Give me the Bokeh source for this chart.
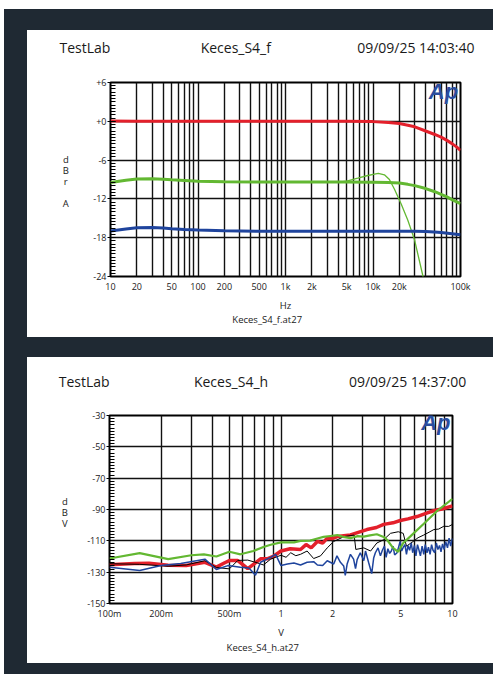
from bokeh.plotting import figure
from bokeh.layouts import column, row
from bokeh.models import Range1d, FixedTicker, Label, Spacer
from bokeh.embed import file_html
from bokeh.resources import INLINE

FONT = "Open Sans"
DARK = "#1f2933"
TXT = "#1a1a1a"
RED = "#e3202b"
GREEN = "#63b832"
BLUE = "#1f449d"
LOGO = "#2a4d9e"

# ---------------- Chart 1: frequency response (dBr A vs Hz) ----------------
f_ticks = [10, 20, 50, 100, 200, 500, 1000, 2000, 5000, 10000, 20000, 100000]
f_tick_labels = ["10", "20", "50", "100", "200", "500", "1k", "2k", "5k", "10k", "20k", "100k"]
dbr_ticks = [-24, -18, -12, -6, 0, 6]
dbr_tick_labels = ["-24", "-18", "-12", "-6", "+0", "+6"]

red_f = [10, 20, 50, 100, 200, 500, 1000, 2000, 5000, 10000, 15000, 20000, 25000,
         30000, 40000, 50000, 60000, 70000, 80000, 90000, 100000]
red_db = [0.05, 0.02, 0.0, 0.0, 0.0, 0.0, 0.0, 0.0, 0.0, -0.05, -0.18, -0.35, -0.6,
          -0.85, -1.5, -2.0, -2.45, -2.95, -3.45, -3.95, -4.5]

green_f = [10, 15, 20, 30, 40, 50, 70, 100, 200, 500, 1000, 2000, 5000, 10000, 15000,
           20000, 25000, 30000, 40000, 50000, 60000, 70000, 80000, 100000]
green_db = [-9.45, -9.1, -8.92, -8.88, -8.95, -9.05, -9.15, -9.27, -9.33, -9.38, -9.4,
            -9.4, -9.4, -9.42, -9.47, -9.55, -9.75, -9.95, -10.4, -10.85, -11.3, -11.7,
            -12.1, -12.75]

green2_f = [10, 15, 20, 30, 40, 50, 70, 100, 200, 500, 1000, 2000, 4300, 5000, 6700,
            8500, 10400, 11500, 13500, 15400, 17600, 21000, 25000, 29800, 37300, 39000]
green2_db = [-9.45, -9.1, -8.92, -8.88, -8.95, -9.05, -9.15, -9.27, -9.33, -9.38, -9.4,
             -9.4, -9.38, -9.25, -8.8, -8.42, -8.16, -8.06, -8.27, -9.0, -10.5, -12.8,
             -15.3, -18.3, -24.0, -25.0]

blue_f = [10, 15, 20, 30, 40, 50, 70, 100, 200, 500, 1000, 5000, 10000, 20000, 30000,
          40000, 50000, 60000, 80000, 100000]
blue_db = [-16.97, -16.65, -16.47, -16.42, -16.5, -16.6, -16.72, -16.82, -16.93, -17.0,
           -17.0, -17.0, -17.0, -17.0, -17.02, -17.06, -17.12, -17.2, -17.38, -17.55]

# ---------------- Chart 2: THD+N level (dBV vs V) ----------------
v_ticks = [0.1, 0.2, 0.5, 1, 2, 5, 10]
v_tick_labels = ["100m", "200m", "500m", "1", "2", "5", "10"]
dbv_ticks = [-150, -130, -110, -90, -70, -50, -30]
dbv_tick_labels = ["-150", "-130", "-110", "-90", "-70", "-50", "-30"]

h_red_v = [0.1, 0.14, 0.17, 0.22, 0.28, 0.36, 0.42, 0.47, 0.5, 0.56, 0.64, 0.7, 0.76,
           0.83, 0.9, 1.0, 1.13, 1.3, 1.4, 1.5, 1.63, 1.75, 1.86, 2.0, 2.13, 2.54, 3.17,
           3.6, 3.97, 4.5, 4.96, 5.5, 6.21, 7.0, 7.76, 8.8, 10]
h_red_db = [-125.3, -124.5, -124.3, -125.6, -125.8, -123.7, -126.8, -124.0, -122.6,
            -122.6, -127.8, -124.5, -121.5, -121.5, -120.0, -116.5, -115.1, -115.5,
            -112.4, -114.5, -110.4, -111.5, -108.3, -108.5, -107.3, -106.2, -102.8,
            -101.5, -99.5, -98.5, -97.0, -96.0, -94.5, -92.5, -90.8, -89.5, -87.7]

h_green_v = [0.1, 0.15, 0.22, 0.3, 0.355, 0.42, 0.5, 0.58, 0.69, 0.79, 0.87, 1.0, 1.19,
             1.3, 1.48, 1.63, 1.77, 1.94, 2.13, 2.3, 2.54, 2.8, 3.04, 3.3, 3.62, 3.97,
             4.15, 4.5, 4.83, 5.16, 5.66, 6.8, 8.15, 10]
h_green_db = [-121.3, -117.8, -121.7, -119.2, -118.6, -120.0, -117.0, -118.6, -116.5,
              -113.9, -112.5, -111.0, -111.0, -110.0, -109.9, -108.5, -107.5, -106.9,
              -106.3, -107.5, -108.3, -107.0, -107.3, -106.5, -105.8, -107.5, -109.3,
              -114.5, -117.0, -111.4, -107.3, -99.1, -90.8, -83.2]

h_black_v = [0.1, 0.15, 0.22, 0.28, 0.36, 0.42, 0.5, 0.56, 0.64, 0.73, 0.79, 0.87, 1.0,
             1.07, 1.14, 1.22, 1.3, 1.42, 1.55, 1.7, 1.86, 2.03, 2.33, 2.67, 2.73, 3.04,
             3.33, 3.62, 3.97, 4.35, 4.83, 5.16, 5.39, 5.9, 6.3, 6.8, 7.3, 7.79, 8.3,
             8.9, 9.5, 10]
h_black_db = [-124.6, -125.0, -126.2, -125.4, -122.7, -127.0, -127.9, -122.5, -122.3,
              -124.1, -125.4, -121.7, -119.2, -120.5, -117.6, -119.5, -118.6, -116.5,
              -121.3, -119.6, -114.5, -110.4, -107.3, -106.3, -115.5, -114.5, -116.5,
              -111.4, -109.3, -105.2, -104.2, -105.2, -113.4, -110.4, -108.0, -106.3,
              -104.5, -102.8, -102.5, -100.7, -100.8, -99.5]

h_blue_v = [0.1, 0.15, 0.2, 0.26, 0.36, 0.42, 0.49, 0.58, 0.65, 0.71, 0.76, 0.87, 0.93,
            1.0, 1.09, 1.19, 1.3, 1.42, 1.55, 1.63, 1.75, 1.86, 2.03, 2.12, 2.22, 2.32,
            2.37, 2.43, 2.54, 2.65, 2.72, 2.78, 2.9, 3.04, 3.11, 3.24, 3.38, 3.47, 3.55,
            3.68, 3.8, 3.9, 4.01, 4.1, 4.2, 4.3, 4.4, 4.5, 4.6, 4.75, 4.85, 4.95, 5.05,
            5.17, 5.28, 5.39, 5.5, 5.62, 5.75, 5.86, 6.0, 6.12, 6.25, 6.38, 6.5, 6.65,
            6.8, 6.94, 7.1, 7.24, 7.4, 7.55, 7.7, 7.88, 8.05, 8.22, 8.4, 8.57, 8.75,
            8.94, 9.13, 9.35, 9.55, 9.75, 10]
h_blue_db = [-126.8, -128.9, -125.8, -124.4, -121.7, -128.3, -125.8, -126.8, -127.4,
             -131.9, -123.7, -120.6, -118.6, -125.8, -124.8, -124.1, -125.4, -123.7,
             -123.3, -125.4, -125.8, -122.7, -124.8, -119.6, -123.7, -126.0, -132.0,
             -124.8, -118.6, -121.7, -127.8, -122.0, -117.6, -122.7, -116.5, -123.7,
             -130.9, -121.0, -117.6, -114.5, -119.6, -116.0, -113.4, -120.6, -115.0,
             -118.0, -116.5, -113.4, -119.0, -117.6, -114.0, -110.4, -116.5, -114.0,
             -112.4, -118.6, -113.0, -116.0, -111.4, -117.6, -113.0, -119.6, -112.4,
             -116.0, -119.6, -113.4, -118.6, -112.4, -117.6, -114.0, -118.6, -112.4,
             -116.0, -117.6, -111.4, -115.5, -113.0, -117.0, -112.0, -115.5, -110.5,
             -114.5, -108.3, -113.4, -108.5]

# page geometry (the page itself has no margin)
OUT_L, OUT_T = 4, 9          # white strip before the dark backdrop
PAD_L, PAD_T = 23, 21        # dark strip before the white panels
PANEL_W = 466
LEFT_W = 55
WHITE = {"background-color": "white"}


def grid_positions(first_decade, last_decade):
    pos = []
    for d in range(first_decade, last_decade):
        for k in range(1, 10):
            pos.append(k * 10.0 ** d)
    pos.append(10.0 ** last_decade)
    return pos


def text_fig(width, height):
    """Plain white strip whose data units are pixels (for header/footer text)."""
    t = figure(width=width, height=height, x_range=Range1d(0, width),
               y_range=Range1d(0, height), output_backend="svg", title=None,
               toolbar_location=None, x_axis_location=None, y_axis_location=None,
               min_border=0, min_border_left=0, min_border_right=0,
               min_border_top=0, min_border_bottom=0)
    t.grid.visible = False
    t.outline_line_color = None
    t.background_fill_color = "white"
    t.border_fill_color = "white"
    return t


def put(p, text, x, y, size="14px", align="left", units="data", color=TXT,
        font=FONT, style="normal", baseline="middle"):
    p.add_layout(Label(x=x, y=y, x_units=units, y_units=units, text=text,
                       text_font=font, text_font_size=size, text_align=align,
                       text_baseline=baseline, text_color=color,
                       text_font_style=style))


def make_plot(height, xr, yr, xt, xtl, yt, ytl, yminor, xgrid, xlabel,
              bl, br, bt, bb):
    p = figure(width=PANEL_W - LEFT_W, height=height, title=None,
               x_axis_type="log", x_range=Range1d(*xr), y_range=Range1d(*yr),
               output_backend="svg", toolbar_location=None,
               min_border_left=bl, min_border_right=br, min_border_top=bt,
               min_border_bottom=bb)
    p.background_fill_color = "white"
    p.border_fill_color = "white"
    p.outline_line_color = "black"
    p.outline_line_width = 2

    p.xaxis.ticker = FixedTicker(ticks=xt)
    p.xaxis.major_label_overrides = {t: l for t, l in zip(xt, xtl)}
    p.xaxis.axis_line_color = None
    p.xaxis.major_tick_in = 0
    p.xaxis.major_tick_out = 0
    p.xaxis.minor_tick_line_color = None
    p.xaxis.major_label_standoff = 3
    p.xaxis.axis_label = xlabel
    p.xaxis.axis_label_text_font = FONT
    p.xaxis.axis_label_text_font_size = "9.5px"
    p.xaxis.axis_label_text_font_style = "normal"
    p.xaxis.axis_label_text_color = TXT
    p.xaxis.axis_label_standoff = 3

    p.yaxis.ticker = FixedTicker(ticks=yt, minor_ticks=yminor)
    p.yaxis.major_label_overrides = {t: l for t, l in zip(yt, ytl)}
    p.yaxis.axis_line_color = None
    p.yaxis.major_tick_in = 5
    p.yaxis.major_tick_out = 3
    p.yaxis.minor_tick_in = 5
    p.yaxis.minor_tick_out = 0
    p.yaxis.major_tick_line_color = "black"
    p.yaxis.minor_tick_line_color = "black"
    p.yaxis.major_label_standoff = 1

    for ax in (p.xaxis, p.yaxis):
        ax.major_label_text_font = FONT
        ax.major_label_text_font_size = "9px"
        ax.major_label_text_color = TXT

    p.xgrid.ticker = FixedTicker(ticks=xgrid)
    p.xgrid.grid_line_color = "#111111"
    p.xgrid.grid_line_width = 1.4
    p.ygrid.grid_line_color = "#111111"
    p.ygrid.grid_line_width = 1.4
    return p


# ================= panel 1 (page x 27..493, y 30..337) =================
# header/footer text centres are in the strip's own pixel units (y from its bottom)
head1 = text_fig(PANEL_W, 32)
put(head1, "TestLab", 32, 15)
put(head1, "Keces_S4_f", 208.3, 15, align="center")
put(head1, "09/09/25 14:03:40", 447, 15, align="right")

# the side strip's frame is aligned with the plot frame: place letters in screen
# units measured from that frame's bottom edge
left1 = text_fig(LEFT_W, 252)
for ch, yy in zip(["d", "B", "r", "A"], [117.3, 106.0, 95.0, 72.7]):
    put(left1, ch, 38.3, yy, size="9.5px", align="center", units="screen")

minor1 = [-24 + 0.5 * i for i in range(61)]
p1 = make_plot(252, (10, 100000), (-24, 6), f_ticks, f_tick_labels, dbr_ticks,
               dbr_tick_labels, minor1, grid_positions(1, 5), "Hz",
               83 - LEFT_W, 33, 20, 33)
p1.line(red_f, red_db, line_color=RED, line_width=3)
p1.line(green_f, green_db, line_color=GREEN, line_width=3)
p1.line(green2_f, green2_db, line_color=GREEN, line_width=1.3)
p1.line(blue_f, blue_db, line_color=BLUE, line_width=3)
put(p1, "Ap", 333, 185.5, size="22px", align="center", units="screen", color=LOGO,
    font="Liberation Sans", style="bold italic")

foot1 = text_fig(PANEL_W, 23)
put(foot1, "Keces_S4_f.at27", 239.7, 18, size="9.5px", align="center")

# ================= panel 2 (page x 27..493, y 357..663) =================
head2 = text_fig(PANEL_W, 38)
put(head2, "TestLab", 31.3, 14.5)
put(head2, "Keces_S4_h", 203.5, 14.5, align="center")
put(head2, "09/09/25 14:37:00", 438.7, 14.5, align="right")

left2 = text_fig(LEFT_W, 246)
for ch, yy in zip(["d", "B", "V"], [102.3, 91.3, 80.3]):
    put(left2, ch, 37.3, yy, size="9.5px", align="center", units="screen")

minor2 = [-150 + 2 * i for i in range(61)]
p2 = make_plot(246, (0.1, 10), (-150, -30), v_ticks, v_tick_labels, dbv_ticks,
               dbv_tick_labels, minor2, grid_positions(-1, 1), "V",
               82 - LEFT_W, 41, 20, 32)
p2.line(h_red_v, h_red_db, line_color=RED, line_width=3.5)
p2.line(h_black_v, h_black_db, line_color="black", line_width=1)
p2.line(h_blue_v, h_blue_db, line_color=BLUE, line_width=1.5)
p2.line(h_green_v, h_green_db, line_color=GREEN, line_width=2.2)
put(p2, "Ap", 326.3, 181, size="22px", align="center", units="screen", color=LOGO,
    font="Liberation Sans", style="bold italic")

foot2 = text_fig(PANEL_W, 22)
put(foot2, "Keces_S4_h.at27", 235.3, 16.5, size="9.5px", align="center")

panel1 = column(head1, row(left1, p1, spacing=0, styles=WHITE), foot1,
                spacing=0, styles=WHITE)
panel2 = column(head2, row(left2, p2, spacing=0, styles=WHITE), foot2,
                spacing=0, styles=WHITE)

DARK_W = PAD_L + PANEL_W
dark = column(
    Spacer(width=DARK_W, height=PAD_T),
    row(Spacer(width=PAD_L, height=307), panel1, spacing=0),
    Spacer(width=DARK_W, height=20),
    row(Spacer(width=PAD_L, height=306), panel2, spacing=0),
    Spacer(width=DARK_W, height=11),
    spacing=0,
    styles={"background-color": DARK},
)
layout = column(
    Spacer(width=OUT_L + DARK_W, height=OUT_T),
    row(Spacer(width=OUT_L, height=665), dark, spacing=0),
    spacing=0,
)
open("out.html", "w").write(file_html(layout, INLINE))
